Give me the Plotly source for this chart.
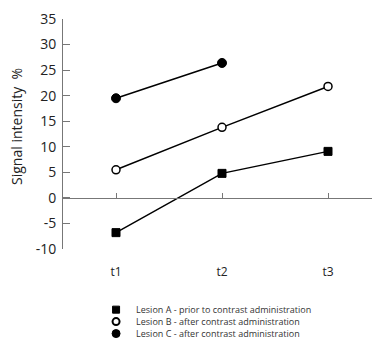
import plotly.graph_objects as go

times = ["t1", "t2", "t3"]
lesion_a = [-6.8, 4.8, 9.1]
lesion_b = [5.5, 13.8, 21.8]
lesion_c = [19.5, 26.4, None]
names = [
    "Lesion A - prior to contrast administration",
    "Lesion B - after contrast administration",
    "Lesion C - after contrast administration",
]
ytick_vals = [-10, -5, 0, 5, 10, 15, 20, 25, 30, 35]
ytick_text = ["-10", "-5", "0", "5", "10", "15", "20", "25", "30", "35"]
y_title = "Signal intensity  %"

FONT = "Open Sans, Liberation Sans, Arial, sans-serif"
styles = [
    dict(symbol="square", size=8, color="#000000", line=dict(color="#000000", width=1)),
    dict(symbol="circle", size=8, color="#ffffff", line=dict(color="#000000", width=1.5)),
    dict(symbol="circle", size=9, color="#000000", line=dict(color="#000000", width=1)),
]
leg_styles = [
    dict(symbol="square", size=7, color="#000000", line=dict(color="#000000", width=1)),
    dict(symbol="circle", size=7, color="#ffffff", line=dict(color="#000000", width=2)),
    dict(symbol="circle", size=8, color="#000000", line=dict(color="#000000", width=1)),
]
series = [lesion_a, lesion_b, lesion_c]
legends = ["legend", "legend2", "legend3"]

fig = go.Figure()
# empty trace so the zero-line axis (x2) is drawn
fig.add_trace(go.Scatter(x=[], y=[], xaxis="x2", yaxis="y", showlegend=False, hoverinfo="skip"))
for vals, st in zip(series, styles):
    fig.add_trace(go.Scatter(
        x=times, y=vals, mode="lines+markers",
        line=dict(color="#000000", width=1.5),
        marker=st, showlegend=False, connectgaps=False, cliponaxis=False,
    ))
for name, st, lg in zip(names, leg_styles, legends):
    fig.add_trace(go.Scatter(
        x=[None], y=[None], mode="markers", marker=st, name=name,
        legend=lg, showlegend=True,
    ))

leg_common = dict(
    x=0.107, xanchor="left", yanchor="middle", bgcolor="rgba(0,0,0,0)",
    font=dict(family=FONT, size=9, color="#333333"), itemwidth=30,
)
fig.update_layout(
    width=375, height=339,
    margin=dict(l=63, r=3, t=19, b=90, autoexpand=False),
    paper_bgcolor="white", plot_bgcolor="white",
    font=dict(family=FONT, color="#222222"),
    xaxis=dict(
        type="category", range=[-0.5, 2.415], showline=False, showgrid=False,
        zeroline=False, ticks="", tickfont=dict(size=12, color="#222222"),
        ticklabelstandoff=14, automargin=False,
    ),
    xaxis2=dict(
        overlaying="x", anchor="free", position=10 / 45, side="bottom",
        range=[-0.5, 2.415], tickmode="array", tickvals=[0, 1, 2],
        showticklabels=False, ticks="inside", ticklen=5, tickcolor="#777777",
        showline=True, linecolor="#777777", linewidth=1, showgrid=False, zeroline=False,
        automargin=False,
    ),
    yaxis=dict(
        range=[-10, 35], tickmode="array", tickvals=ytick_vals, ticktext=ytick_text,
        ticks="inside", ticklen=7, tickcolor="#777777", showline=True,
        linecolor="#777777", linewidth=1, showgrid=False, zeroline=False,
        tickfont=dict(size=14, color="#222222"), ticklabelstandoff=3, automargin=False,
    ),
    annotations=[dict(
        text=y_title, textangle=-90, xref="paper", yref="paper",
        x=-0.1489, y=0.535, xanchor="center", yanchor="middle", showarrow=False,
        font=dict(family=FONT, size=14, color="#222222"),
    )],
    legend=dict(y=-0.2637, **leg_common),
    legend2=dict(y=-0.3157, **leg_common),
    legend3=dict(y=-0.3677, **leg_common),
)
fig.write_html("out.html", config={"displayModeBar": False},
               post_script="document.body.style.margin='0';")
